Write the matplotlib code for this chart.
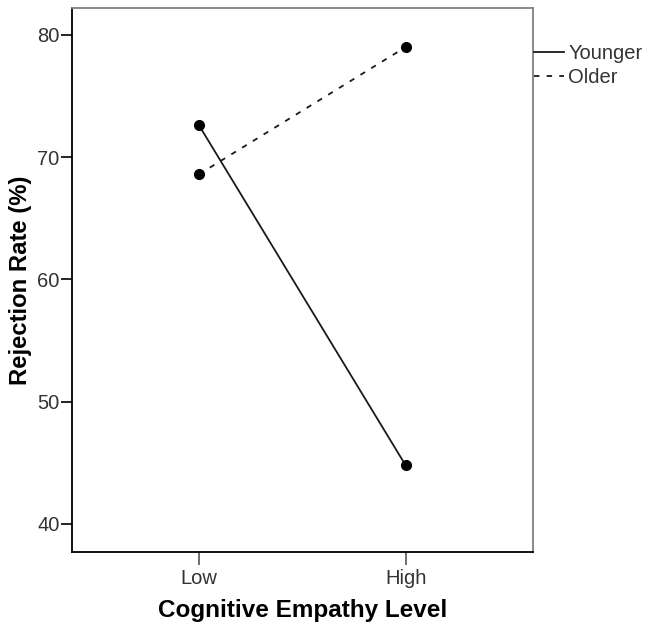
import matplotlib
matplotlib.use("Agg")
import matplotlib.pyplot as plt
from matplotlib.lines import Line2D

categories = ["Low", "High"]
younger = [72.6, 44.8]
older = [68.6, 79.0]
series_names = ["Younger", "Older"]
yticks = [40, 50, 60, 70, 80]

plt.rcParams['font.family'] = ['Liberation Sans', 'DejaVu Sans']

W, H = 649, 629
fig = plt.figure(figsize=(W/100, H/100), dpi=100)
ax = fig.add_axes([72/W, 1 - 552/H, (533-72)/W, (552-8)/H])

x = list(range(len(categories)))
ax.plot(x, younger, color='#1a1a1a', lw=1.3, ls='-', marker='o', ms=7, mfc='black', mec='black')
ax.plot(x, older, color='#1a1a1a', lw=1.3, ls=(0, (3, 4)), marker='o', ms=7, mfc='black', mec='black')

ax.set_xlim(-0.615, 1.617)
ax.set_ylim(37.7, 82.2)
ax.set_xticks(x)
ax.set_xticklabels(categories)
ax.set_yticks(yticks)
ax.tick_params(axis='both', labelsize=14.5, labelcolor='#333333')
ax.tick_params(axis='y', length=8, width=1.2, color='black', pad=1)
ax.tick_params(axis='x', length=9, width=1.2, color='#555555', pad=3)

for s in ['left', 'bottom']:
    ax.spines[s].set_color('black')
    ax.spines[s].set_linewidth(1.3)
for s in ['top', 'right']:
    ax.spines[s].set_color('#808080')
    ax.spines[s].set_linewidth(1.3)

ax.set_xlabel("Cognitive Empathy Level", fontsize=17.5, fontweight='bold', labelpad=8)
ax.set_ylabel("Rejection Rate (%)", fontsize=17.2, fontweight='bold', labelpad=4)

handles = [Line2D([0], [0], color='#1a1a1a', lw=1.3, ls='-'),
           Line2D([0], [0], color='#1a1a1a', lw=1.3, ls=(0, (3, 4)))]
leg = fig.legend(handles, series_names, loc='upper left',
                 bbox_to_anchor=(534/W, 1 - 44/H), bbox_transform=fig.transFigure,
                 frameon=False, fontsize=14.5, handlelength=1.5, handletextpad=0.2,
                 labelspacing=0.25, borderaxespad=0, borderpad=0)
for t in leg.get_texts():
    t.set_color('#333333')

fig.savefig("out.png", dpi=100, facecolor='white')
